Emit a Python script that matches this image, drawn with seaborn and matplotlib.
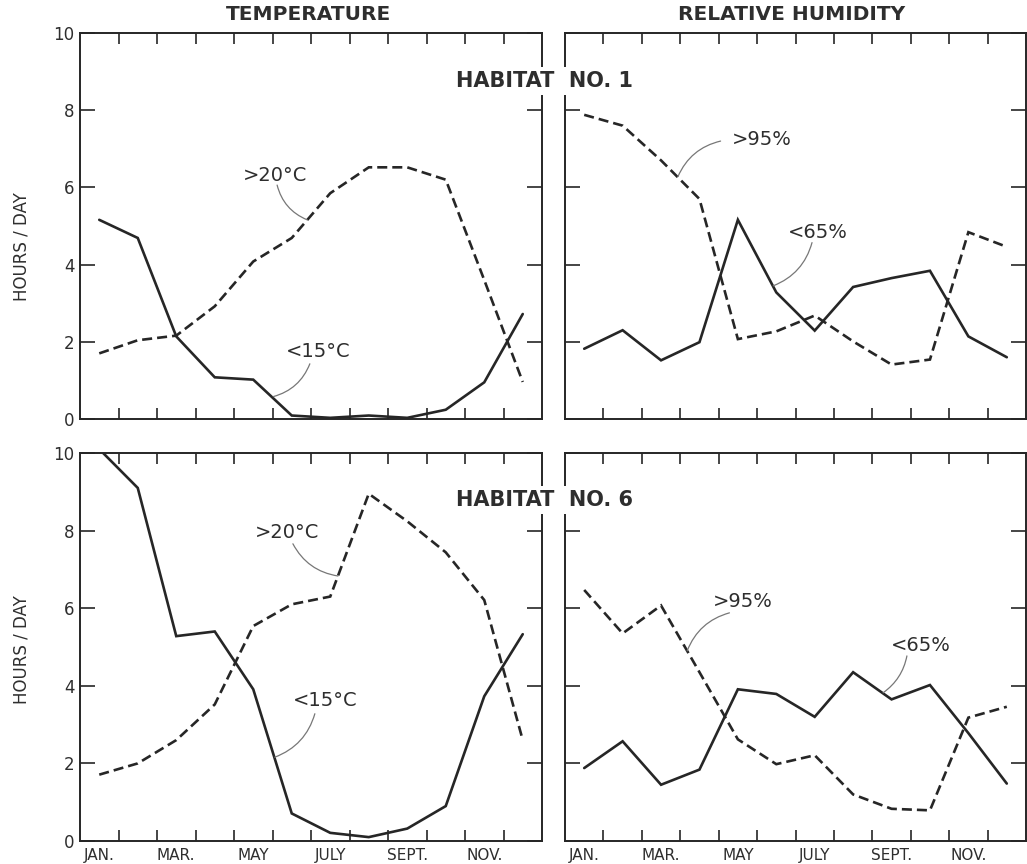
import numpy as np
import pandas as pd
import matplotlib
matplotlib.use("Agg")
import matplotlib.pyplot as plt
import seaborn as sns

# Monthly means, hours per day
months = ["JAN.", "FEB.", "MAR.", "APR.", "MAY", "JUNE", "JULY", "AUG.", "SEPT.", "OCT.", "NOV.", "DEC."]
month_labels = ["JAN.", "MAR.", "MAY", "JULY", "SEPT.", "NOV."]

h1_temp_below15 = [5.16, 4.69, 2.14, 1.08, 1.02, 0.09, 0.03, 0.09, 0.03, 0.24, 0.95, 2.72]
h1_temp_above20 = [1.70, 2.04, 2.16, 2.92, 4.08, 4.69, 5.85, 6.52, 6.52, 6.20, 3.60, 0.96]
h1_rh_above95 = [7.88, 7.60, 6.70, 5.70, 2.07, 2.27, 2.68, 2.01, 1.41, 1.54, 4.84, 4.46]
h1_rh_below65 = [1.82, 2.30, 1.52, 1.99, 5.16, 3.28, 2.29, 3.42, 3.65, 3.84, 2.14, 1.60]

h6_temp_below15 = [10.10, 9.10, 5.28, 5.40, 3.91, 0.71, 0.21, 0.10, 0.32, 0.90, 3.73, 5.33]
h6_temp_above20 = [1.71, 2.00, 2.60, 3.52, 5.54, 6.10, 6.30, 8.95, 8.24, 7.44, 6.21, 2.60]
h6_rh_above95 = [6.47, 5.35, 6.07, 4.35, 2.62, 1.98, 2.21, 1.20, 0.83, 0.79, 3.18, 3.46]
h6_rh_below65 = [1.88, 2.57, 1.45, 1.84, 3.91, 3.79, 3.20, 4.35, 3.65, 4.02, 2.78, 1.48]

sns.set_theme(style="white")
plt.rcParams["font.family"] = ["DejaVu Sans"]

INK = "#262626"
TXT = "#2e2e2e"
month_pos = np.arange(12) + 0.5

fig = plt.figure(figsize=(10.27, 8.64), dpi=100)
W, H = 1027, 864


def axes_px(x0, y0, x1, y1):
    return fig.add_axes([x0 / W, 1 - y1 / H, (x1 - x0) / W, (y1 - y0) / H])


ax_tl = axes_px(80, 33, 542, 419)
ax_tr = axes_px(565, 33, 1026, 419)
ax_bl = axes_px(80, 453, 542, 841)
ax_br = axes_px(565, 453, 1026, 841)


def draw(ax, solid, dashed):
    df = pd.DataFrame({"pos": month_pos, "solid": solid, "dashed": dashed})
    sns.lineplot(data=df, x="pos", y="solid", ax=ax, color=INK, lw=1.9,
                 linestyle="-", solid_joinstyle="miter")
    sns.lineplot(data=df, x="pos", y="dashed", ax=ax, color=INK, lw=1.9,
                 linestyle=(0, (3.8, 1.9)), dash_joinstyle="miter")


def style(ax, left_labels, bottom_labels):
    ax.set_xlim(0, 12)
    ax.set_ylim(0, 10)
    ax.set_xlabel("")
    ax.set_ylabel("")
    for s in ax.spines.values():
        s.set_visible(True)
        s.set_color(INK)
        s.set_linewidth(1.4)
    ax.set_xticks(np.arange(1, 12))
    ax.set_xticklabels([])
    ax.set_xticks(np.arange(0.5, 12, 2), minor=True)
    if bottom_labels:
        ax.set_xticklabels(month_labels, minor=True)
    else:
        ax.set_xticklabels([], minor=True)
    ax.tick_params(axis="x", which="major", direction="in", length=8, width=1.2,
                   color=INK, top=True, bottom=True)
    ax.tick_params(axis="x", which="minor", length=0, pad=5, labelsize=11,
                   labelcolor=TXT)
    ax.set_yticks(np.arange(0, 11, 2))
    if left_labels:
        ax.set_yticklabels([str(v) for v in range(0, 11, 2)])
    else:
        ax.set_yticklabels([])
    ax.tick_params(axis="y", direction="in", length=11, width=1.2, color=INK,
                   left=True, right=True, labelsize=12, labelcolor=TXT, pad=4)


draw(ax_tl, h1_temp_below15, h1_temp_above20)
draw(ax_tr, h1_rh_below65, h1_rh_above95)
draw(ax_bl, h6_temp_below15, h6_temp_above20)
draw(ax_br, h6_rh_below65, h6_rh_above95)

style(ax_tl, True, False)
style(ax_tr, False, False)
style(ax_bl, True, True)
style(ax_br, False, True)


def tag(ax, text, xy_text, start, end, rad):
    ax.text(*xy_text, text, ha="center", va="center", fontsize=14, color=TXT)
    ax.annotate("", xy=end, xytext=start,
                arrowprops=dict(arrowstyle="-", color="#777777", lw=0.9,
                                shrinkA=0, shrinkB=0,
                                connectionstyle=f"arc3,rad={rad}"))


tag(ax_tl, ">20°C", (5.06, 6.32), (5.12, 6.06), (5.9, 5.16), 0.25)
tag(ax_tl, "<15°C", (6.18, 1.76), (5.97, 1.43), (5.02, 0.58), -0.25)
tag(ax_tr, ">95%", (5.13, 7.25), (4.05, 7.2), (2.94, 6.28), 0.25)
tag(ax_tr, "<65%", (6.59, 4.84), (6.43, 4.57), (5.42, 3.45), -0.25)
tag(ax_bl, ">20°C", (5.38, 7.94), (5.53, 7.66), (6.70, 6.83), 0.25)
tag(ax_bl, "<15°C", (6.36, 3.61), (6.10, 3.28), (5.06, 2.16), -0.25)
tag(ax_br, ">95%", (4.64, 6.16), (4.28, 5.88), (3.18, 4.90), 0.25)
tag(ax_br, "<65%", (9.27, 5.05), (8.90, 4.77), (8.28, 3.82), -0.2)

fig.text(308 / W, 1 - 15 / H, "TEMPERATURE", ha="center", va="center",
         fontsize=14.5, fontweight="bold", color=TXT)
fig.text(792 / W, 1 - 15 / H, "RELATIVE HUMIDITY", ha="center", va="center",
         fontsize=14.5, fontweight="bold", color=TXT)

for yc, name in [(81, "HABITAT  NO. 1"), (500, "HABITAT  NO. 6")]:
    fig.text(545 / W, 1 - yc / H, name, ha="center", va="center", fontsize=15,
             fontweight="bold", color=TXT, zorder=10,
             bbox=dict(boxstyle="square,pad=0.2", fc="white", ec="none"))

for yc in (247, 650):
    fig.text(22 / W, 1 - yc / H, "HOURS / DAY", ha="center", va="center",
             rotation=90, fontsize=12, color=TXT)

fig.savefig("out.png", dpi=100, facecolor="white")
